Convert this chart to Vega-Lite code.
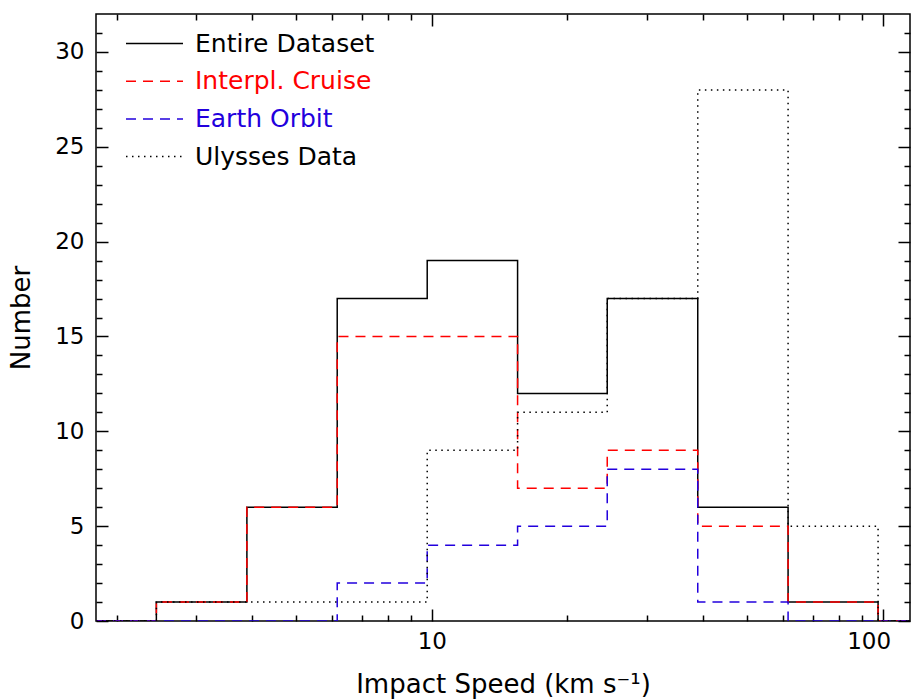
{
  "$schema": "https://vega.github.io/schema/vega-lite/v6.json",
  "autosize": {"type": "none"},
  "padding": {"left": 96, "top": 14, "right": 1, "bottom": 78},
  "width": 814,
  "height": 607,
  "config": {
    "view": {"stroke": "black", "strokeWidth": 1.5},
    "font": "DejaVu Sans",
    "axis": {
      "grid": false,
      "domain": false,
      "tickColor": "black",
      "tickWidth": 1.5,
      "labelColor": "black",
      "titleColor": "black",
      "labelFont": "DejaVu Sans",
      "titleFont": "DejaVu Sans",
      "labelFontSize": 23,
      "titleFontSize": 26,
      "titleFontWeight": "normal"
    }
  },
  "data": {
    "values": [
      {"series": "Entire Dataset", "speed": 1.8, "count": 0},
      {"series": "Entire Dataset", "speed": 2.45, "count": 1},
      {"series": "Entire Dataset", "speed": 3.89, "count": 6},
      {"series": "Entire Dataset", "speed": 6.17, "count": 17},
      {"series": "Entire Dataset", "speed": 9.77, "count": 19},
      {"series": "Entire Dataset", "speed": 15.5, "count": 12},
      {"series": "Entire Dataset", "speed": 24.5, "count": 17},
      {"series": "Entire Dataset", "speed": 38.9, "count": 6},
      {"series": "Entire Dataset", "speed": 61.7, "count": 1},
      {"series": "Entire Dataset", "speed": 97.7, "count": 0},
      {"series": "Entire Dataset", "speed": 115, "count": 0},
      {"series": "Interpl. Cruise", "speed": 1.8, "count": 0},
      {"series": "Interpl. Cruise", "speed": 2.45, "count": 1},
      {"series": "Interpl. Cruise", "speed": 3.89, "count": 6},
      {"series": "Interpl. Cruise", "speed": 6.17, "count": 15},
      {"series": "Interpl. Cruise", "speed": 9.77, "count": 15},
      {"series": "Interpl. Cruise", "speed": 15.5, "count": 7},
      {"series": "Interpl. Cruise", "speed": 24.5, "count": 9},
      {"series": "Interpl. Cruise", "speed": 38.9, "count": 5},
      {"series": "Interpl. Cruise", "speed": 61.7, "count": 1},
      {"series": "Interpl. Cruise", "speed": 97.7, "count": 0},
      {"series": "Interpl. Cruise", "speed": 115, "count": 0},
      {"series": "Earth Orbit", "speed": 1.8, "count": 0},
      {"series": "Earth Orbit", "speed": 2.45, "count": 0},
      {"series": "Earth Orbit", "speed": 3.89, "count": 0},
      {"series": "Earth Orbit", "speed": 6.17, "count": 2},
      {"series": "Earth Orbit", "speed": 9.77, "count": 4},
      {"series": "Earth Orbit", "speed": 15.5, "count": 5},
      {"series": "Earth Orbit", "speed": 24.5, "count": 8},
      {"series": "Earth Orbit", "speed": 38.9, "count": 1},
      {"series": "Earth Orbit", "speed": 61.7, "count": 0},
      {"series": "Earth Orbit", "speed": 97.7, "count": 0},
      {"series": "Earth Orbit", "speed": 115, "count": 0},
      {"series": "Ulysses Data", "speed": 1.8, "count": 0},
      {"series": "Ulysses Data", "speed": 2.45, "count": 1},
      {"series": "Ulysses Data", "speed": 3.89, "count": 1},
      {"series": "Ulysses Data", "speed": 6.17, "count": 1},
      {"series": "Ulysses Data", "speed": 9.77, "count": 9},
      {"series": "Ulysses Data", "speed": 15.5, "count": 11},
      {"series": "Ulysses Data", "speed": 24.5, "count": 17},
      {"series": "Ulysses Data", "speed": 38.9, "count": 28},
      {"series": "Ulysses Data", "speed": 61.7, "count": 5},
      {"series": "Ulysses Data", "speed": 97.7, "count": 0},
      {"series": "Ulysses Data", "speed": 115, "count": 0}
    ]
  },
  "resolve": {"axis": {"x": "independent", "y": "independent"}},
  "layer": [
    {
      "transform": [{"filter": "datum.series == 'Entire Dataset'"}],
      "mark": {"type": "line", "interpolate": "step-after", "strokeWidth": 1.5, "clip": true},
      "encoding": {
        "x": {"field": "speed", "type": "quantitative", "scale": {"type": "log", "domain": [1.8, 115], "nice": false},
          "axis": {"orient": "bottom", "values": [10, 100], "tickSize": -12, "labelPadding": 21, "title": "Impact Speed (km s⁻¹)", "titlePadding": 18, "format": "d",
            "labelAlign": {"condition": {"test": "datum.value == 100", "value": "right"}, "value": "center"}, "labelOffset": {"condition": {"test": "datum.value == 100", "value": 8}, "value": 0}}},
        "y": {"field": "count", "type": "quantitative", "scale": {"domain": [0, 32], "nice": false, "zero": false},
          "axis": {"orient": "left", "values": [0, 5, 10, 15, 20, 25, 30], "tickSize": -12, "labelPadding": 24, "title": "Number", "titlePadding": 20}},
        "color": {"field": "series", "type": "nominal",
          "scale": {"domain": ["Entire Dataset", "Interpl. Cruise", "Earth Orbit", "Ulysses Data"], "range": ["black", "red", "#2200dd", "black"]},
          "legend": {"title": null, "orient": "none", "legendX": 46, "legendY": 17, "symbolType": "M-3,0H3", "symbolSize": 361, "symbolStrokeWidth": 1.5, "labelFontSize": 25, "labelFont": "DejaVu Sans", "labelLimit": 0, "labelOffset": 28, "rowPadding": 11.7, "padding": 0,
            "encode": {"labels": {"update": {"fill": {"scale": "color", "field": "value"}}}}}},
        "strokeDash": {"field": "series", "type": "nominal",
          "scale": {"domain": ["Entire Dataset", "Interpl. Cruise", "Earth Orbit", "Ulysses Data"], "range": [[1, 0], [10, 7], [10, 7], [1.5, 4.5]]}}
      }
    },
    {
      "transform": [{"filter": "datum.series == 'Interpl. Cruise'"}],
      "mark": {"type": "line", "interpolate": "step-after", "strokeWidth": 1.5, "clip": true},
      "encoding": {
        "x": {"field": "speed", "type": "quantitative", "axis": null},
        "y": {"field": "count", "type": "quantitative", "axis": null},
        "color": {"field": "series", "type": "nominal"},
        "strokeDash": {"field": "series", "type": "nominal"}
      }
    },
    {
      "transform": [{"filter": "datum.series == 'Earth Orbit'"}],
      "mark": {"type": "line", "interpolate": "step-after", "strokeWidth": 1.5, "clip": true},
      "encoding": {
        "x": {"field": "speed", "type": "quantitative", "axis": null},
        "y": {"field": "count", "type": "quantitative", "axis": null},
        "color": {"field": "series", "type": "nominal"},
        "strokeDash": {"field": "series", "type": "nominal"}
      }
    },
    {
      "transform": [{"filter": "datum.series == 'Ulysses Data'"}],
      "mark": {"type": "line", "interpolate": "step-after", "strokeWidth": 1.5, "clip": true},
      "encoding": {
        "x": {"field": "speed", "type": "quantitative", "axis": null},
        "y": {"field": "count", "type": "quantitative", "axis": null},
        "color": {"field": "series", "type": "nominal"},
        "strokeDash": {"field": "series", "type": "nominal"}
      }
    },
    {
      "mark": {"type": "point", "opacity": 0},
      "encoding": {
        "x": {"field": "speed", "type": "quantitative",
          "axis": {"orient": "bottom", "values": [2, 3, 4, 5, 6, 7, 8, 9, 20, 30, 40, 50, 60, 70, 80, 90], "tickSize": -6, "labels": false, "title": null}},
        "y": {"field": "count", "type": "quantitative",
          "axis": {"orient": "left", "values": [1, 2, 3, 4, 6, 7, 8, 9, 11, 12, 13, 14, 16, 17, 18, 19, 21, 22, 23, 24, 26, 27, 28, 29, 31], "tickSize": -6, "labels": false, "title": null}}
      }
    },
    {
      "mark": {"type": "point", "opacity": 0},
      "encoding": {
        "x": {"field": "speed", "type": "quantitative",
          "axis": {"orient": "top", "values": [10, 100], "tickSize": -12, "labels": false, "title": null}},
        "y": {"field": "count", "type": "quantitative",
          "axis": {"orient": "right", "values": [0, 5, 10, 15, 20, 25, 30], "tickSize": -12, "labels": false, "title": null}}
      }
    },
    {
      "mark": {"type": "point", "opacity": 0},
      "encoding": {
        "x": {"field": "speed", "type": "quantitative",
          "axis": {"orient": "top", "values": [2, 3, 4, 5, 6, 7, 8, 9, 20, 30, 40, 50, 60, 70, 80, 90], "tickSize": -6, "labels": false, "title": null}},
        "y": {"field": "count", "type": "quantitative",
          "axis": {"orient": "right", "values": [1, 2, 3, 4, 6, 7, 8, 9, 11, 12, 13, 14, 16, 17, 18, 19, 21, 22, 23, 24, 26, 27, 28, 29, 31], "tickSize": -6, "labels": false, "title": null}}
      }
    }
  ]
}
